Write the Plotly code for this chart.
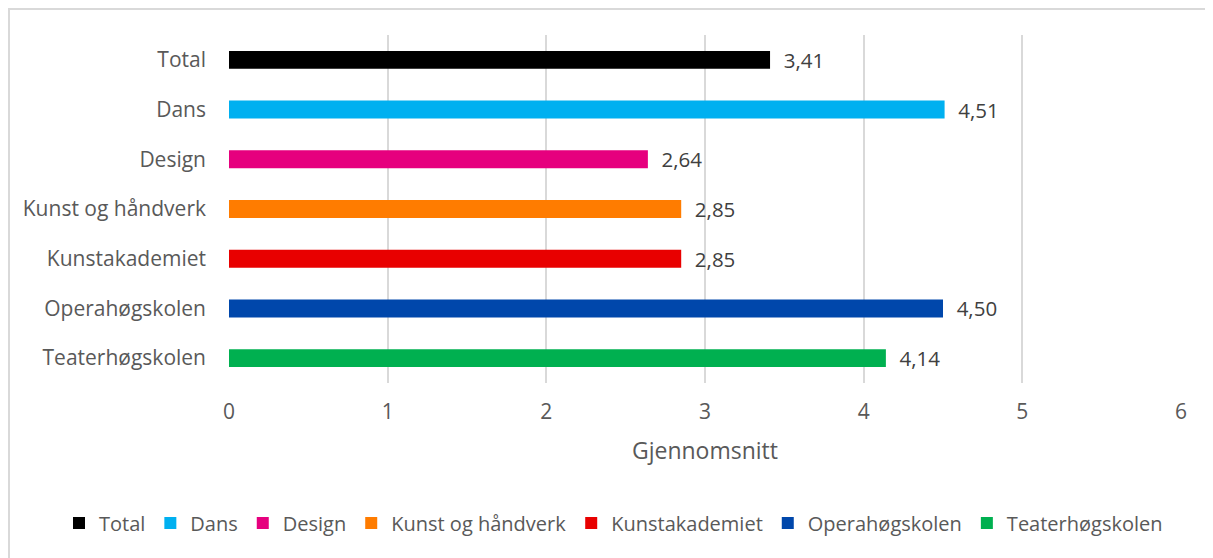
import plotly.graph_objects as go

categories = ["Total", "Dans", "Design", "Kunst og håndverk", "Kunstakademiet", "Operahøgskolen", "Teaterhøgskolen"]
values = [3.41, 4.51, 2.64, 2.85, 2.85, 4.50, 4.14]
colors = ["#000000", "#00B0F0", "#E6007E", "#FF7C00", "#E80000", "#0047AB", "#00B050"]
x_ticks = [0, 1, 2, 3, 4, 5, 6]
x_title = "Gjennomsnitt"

FONT = "Open Sans"
FS = 21

# page is offset by the 8px body margin
W, H = 1205, 550
L, R, T, B = 221, 32, 27, 175
PW, PH = W - L - R, H - T - B

fig = go.Figure()
for cat, val, col in zip(categories, values, colors):
    fig.add_trace(go.Bar(
        y=[cat], x=[val], name=cat, orientation="h",
        marker=dict(color=col, line=dict(width=0)),
        width=0.36,
        texttemplate="\u00a0\u00a0%{x:.2f}", textposition="outside",
        constraintext="none",
        textfont=dict(family=FONT, size=20.5, color="#404040"),
        cliponaxis=False,
    ))

fig.update_layout(
    width=W, height=H,
    margin=dict(l=L, r=R, t=T, b=B),
    plot_bgcolor="white", paper_bgcolor="white",
    barmode="overlay",
    separators=", ",
    font=dict(family=FONT, size=FS, color="#595959"),
    showlegend=True,
    legend=dict(orientation="h",
                x=(51 - L) / PW, xanchor="left", y=(PH - (515 - T)) / PH, yanchor="middle",
                font=dict(family=FONT, size=20, color="#595959"),
                traceorder="normal", itemwidth=30, tracegroupgap=0),
    xaxis=dict(range=[0, 6], tickvals=x_ticks, showgrid=True, gridcolor="#D9D9D9", gridwidth=1.5,
               zeroline=False, showline=False, ticks="", automargin=False,
               ticklabelstandoff=14,
               title=dict(text=x_title, font=dict(family=FONT, size=23, color="#595959"), standoff=18),
               tickfont=dict(family=FONT, size=FS, color="#595959")),
    yaxis=dict(categoryorder="array", categoryarray=categories, autorange="reversed",
               showgrid=False, zeroline=False, showline=False, ticks="", automargin=False,
               ticklabelstandoff=22,
               tickfont=dict(family=FONT, size=FS, color="#595959")),
)

# outer chart border: only top and left edges fall inside the picture
fig.add_shape(type="rect", xref="paper", yref="paper",
              x0=(1 - L) / PW, x1=(1230 - L) / PW,
              y0=-(570 - T - PH) / PH, y1=1 + (T - 1) / PH,
              line=dict(color="#D9D9D9", width=2), fillcolor="rgba(0,0,0,0)", layer="below")

fig.write_html("out.html")
